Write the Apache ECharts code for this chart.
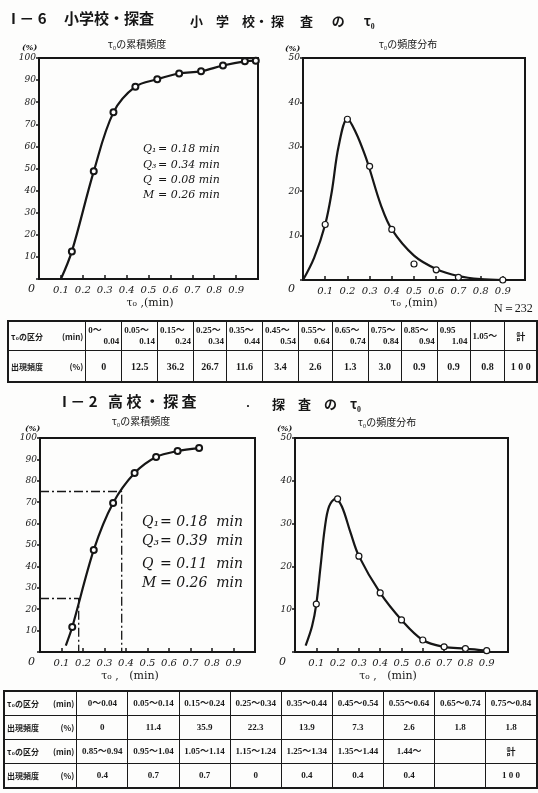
<!DOCTYPE html>
<html>
<head>
<meta charset="utf-8">
<script src="https://cdn.jsdelivr.net/npm/echarts@6/dist/echarts.min.js"></script>
<style>
  html, body { margin: 0; padding: 0; background: #fff; }
  #page { position: relative; width: 538px; height: 793px; overflow: hidden; background: #fdfdfc; }
  #chart { position: absolute; left: 0; top: 0; width: 538px; height: 793px; }
  table { position: absolute; border-collapse: collapse; table-layout: fixed; border: 2px solid #1a1a1a;
          font-family: "Liberation Serif", "Noto Sans CJK JP", serif; font-weight: bold; color: #1a1a1a; }
  td { border: 1px solid #1a1a1a; padding: 0 2px; font-size: 9px; line-height: 11px; overflow: hidden; white-space: nowrap; }
  #t1 { left: 7px; top: 320px; }
  #t1 tr.h td { height: 28px; }
  #t1 tr.v td { height: 30px; text-align: center; font-size: 10px; }
  #t2 { left: 3px; top: 690px; }
  #t2 td { height: 23px; text-align: center; }
  .lo { text-align: left; }
  .hi { text-align: right; }
  .sp { display: flex; justify-content: space-between; font-family: "Noto Sans CJK JP", sans-serif; font-size: 8px; }
</style>
</head>
<body>
<div id="page">
  <div id="chart"></div>
  <table id="t1"></table>
  <table id="t2"></table>
</div>
<script>
// ---- I-6 小学校 ----
var cumX1 = [0.10, 0.15, 0.25, 0.34, 0.44, 0.54, 0.64, 0.74, 0.84, 0.94, 0.99];
var cumY1 = [0, 12.5, 48.7, 75.4, 87.0, 90.4, 93.0, 94.0, 96.6, 98.5, 98.8];
var ptX1 = [0.1, 0.2, 0.3, 0.4, 0.5, 0.6, 0.7, 0.9];
var ptY1 = [12.5, 36.2, 25.6, 11.4, 3.6, 2.3, 0.6, 0];
var curveX1 = [0, 0.05, 0.1, 0.13, 0.16, 0.2, 0.24, 0.28, 0.3, 0.35, 0.4, 0.5, 0.6, 0.7, 0.8, 0.9];
var curveY1 = [0, 5, 12.5, 20, 30, 36.3, 33, 28, 25, 17, 11.4, 5.5, 2.5, 0.9, 0.2, 0];
var qNames = ['Q₁', 'Q₃', 'Q', 'M'];
var qVals1 = ['0.18', '0.34', '0.08', '0.26'];
var classes1 = [['0～', '0.04'], ['0.05～', '0.14'], ['0.15～', '0.24'], ['0.25～', '0.34'], ['0.35～', '0.44'],
  ['0.45～', '0.54'], ['0.55～', '0.64'], ['0.65～', '0.74'], ['0.75～', '0.84'], ['0.85～', '0.94'],
  ['0.95', '1.04'], ['1.05～', '']];
var freq1 = ['0', '12.5', '36.2', '26.7', '11.6', '3.4', '2.6', '1.3', '3.0', '0.9', '0.9', '0.8'];
var total1 = '1 0 0';

// ---- I-2 高校 ----
var cumX2 = [0.12, 0.15, 0.25, 0.34, 0.44, 0.54, 0.64, 0.74];
var cumY2 = [3, 11.7, 47.7, 69.6, 83.6, 91.1, 93.9, 95.3];
var quart2 = [[0.18, 25], [0.38, 75]];
var ptX2 = [0.1, 0.2, 0.3, 0.4, 0.5, 0.6, 0.7, 0.8, 0.9];
var ptY2 = [11.2, 35.8, 22.4, 13.8, 7.5, 2.8, 1.2, 0.8, 0.3];
var curveX2 = [0.05, 0.08, 0.1, 0.12, 0.14, 0.16, 0.19, 0.22, 0.26, 0.3, 0.4, 0.5, 0.6, 0.7, 0.8, 0.9];
var curveY2 = [1.5, 6, 11.2, 20, 29, 34, 35.8, 34, 28, 22.4, 13.8, 7.5, 2.8, 1.2, 0.8, 0.3];
var qVals2 = ['0.18', '0.39', '0.11', '0.26'];
var classes2a = ['0～0.04', '0.05～0.14', '0.15～0.24', '0.25～0.34', '0.35～0.44', '0.45～0.54', '0.55～0.64', '0.65～0.74', '0.75～0.84'];
var freq2a = ['0', '11.4', '35.9', '22.3', '13.9', '7.3', '2.6', '1.8', '1.8'];
var classes2b = ['0.85～0.94', '0.95～1.04', '1.05～1.14', '1.15～1.24', '1.25～1.34', '1.35～1.44', '1.44～', '', '計'];
var freq2b = ['0.4', '0.7', '0.7', '0', '0.4', '0.4', '0.4', '', '1 0 0'];

function zip(xs, ys) {
  var out = [];
  for (var i = 0; i < xs.length; i++) out.push([xs[i], ys[i]]);
  return out;
}

var INK = '#161616';

function xAx(gi) {
  return {
    type: 'value', gridIndex: gi, min: 0, max: 1, interval: 0.1,
    axisLine: { lineStyle: { color: INK, width: 2 } },
    axisTick: { inside: true, length: 4, lineStyle: { color: INK, width: 1.5 } },
    splitLine: { show: false },
    axisLabel: {
      color: INK, fontSize: 10, fontStyle: 'italic', fontFamily: 'DejaVu Serif', margin: 6,
      formatter: function (v) { return (v > 0.05 && v < 0.95) ? v.toFixed(1) : ''; }
    }
  };
}
function yAx(gi, max) {
  return {
    type: 'value', gridIndex: gi, min: 0, max: max, interval: 10,
    axisLine: { lineStyle: { color: INK, width: 2 } },
    axisTick: { length: 3, lineStyle: { color: INK, width: 1.5 } },
    splitLine: { show: false },
    axisLabel: {
      color: INK, fontSize: 9, fontStyle: 'italic', fontFamily: 'DejaVu Serif', margin: 3,
      formatter: function (v) { return v === 0 ? '' : v; }
    }
  };
}
function gridBox(l, t, w, h) {
  return { left: l, top: t, width: w, height: h, show: true, borderColor: INK, borderWidth: 2, backgroundColor: 'transparent' };
}

var cum1Data = zip(cumX1, cumY1);
cum1Data[0] = { value: cum1Data[0], symbol: 'none' };
var cum2Data = zip(cumX2, cumY2);
cum2Data[0] = { value: cum2Data[0], symbol: 'none' };

var lineBase = { type: 'line', smooth: 0.35, lineStyle: { color: INK, width: 2.2 }, itemStyle: { color: INK, borderColor: INK, borderWidth: 1 }, z: 3 };
function ser(extra) { return Object.assign({}, lineBase, extra); }
var dotStyle = { color: '#ffffff', borderColor: INK, borderWidth: 1.2, opacity: 1 };

var series = [
  ser({ xAxisIndex: 0, yAxisIndex: 0, data: cum1Data, symbol: 'emptyCircle', symbolSize: 6 }),
  ser({ xAxisIndex: 1, yAxisIndex: 1, data: zip(curveX1, curveY1), symbol: 'none' }),
  { type: 'scatter', xAxisIndex: 1, yAxisIndex: 1, data: zip(ptX1, ptY1), symbol: 'circle', symbolSize: 6,
    itemStyle: dotStyle, z: 4 },
  ser({ xAxisIndex: 2, yAxisIndex: 2, data: cum2Data, symbol: 'emptyCircle', symbolSize: 6, smooth: 0.3 }),
  ser({ xAxisIndex: 3, yAxisIndex: 3, data: zip(curveX2, curveY2), symbol: 'none' }),
  { type: 'scatter', xAxisIndex: 3, yAxisIndex: 3, data: zip(ptX2, ptY2), symbol: 'circle', symbolSize: 6,
    itemStyle: dotStyle, z: 4 }
];
quart2.forEach(function (q) {
  series.push({
    type: 'line', xAxisIndex: 2, yAxisIndex: 2, symbol: 'none', z: 2,
    lineStyle: { color: INK, width: 1.3, type: [9, 3, 2, 3] },
    data: [[0, q[1]], [q[0], q[1]], [q[0], 0]]
  });
});

function txt(s, x, y, font, align) {
  return { type: 'text', x: x, y: y, style: { text: s, font: font, fill: INK, align: align || 'left', verticalAlign: 'middle' }, z: 10 };
}
var TITLE = 'bold 15px "Noto Sans CJK JP"';
var SUB = '10px "Noto Sans CJK JP"';
var graphics = [
  txt('I － 6', 11, 18, TITLE),
  txt('小学校・探査', 64, 18, TITLE),
  txt('小　学　校・ 探　 査　  の　  τ₀', 190, 21, 'bold 13px "Noto Sans CJK JP"'),
  txt('τ₀の累積頻度', 137, 44, SUB, 'center'),
  txt('τ₀の頻度分布', 408, 44, SUB, 'center'),
  txt('(%)', 22, 48, 'italic bold 8px "DejaVu Serif"'),
  txt('(%)', 285, 49, 'italic bold 8px "DejaVu Serif"'),
  txt('0', 28, 289, 'italic 11px "DejaVu Serif"'),
  txt('0', 288, 289, 'italic 11px "DejaVu Serif"'),
  txt('τ₀ ,(min)', 150, 303, '11px "DejaVu Serif"', 'center'),
  txt('τ₀ ,(min)', 414, 303, '11px "DejaVu Serif"', 'center'),
  txt('N＝232', 494, 309, '12px "Liberation Serif"'),

  txt('I － 2', 62, 401, TITLE),
  txt('高 校 ・ 探 査', 108, 401, TITLE),
  txt('・', 243, 406, '10px "Noto Sans CJK JP"'),
  txt('探　査　の　τ₀', 272, 404, 'bold 13px "Noto Sans CJK JP"'),
  txt('τ₀の累積頻度', 141, 421, SUB, 'center'),
  txt('τ₀の頻度分布', 387, 422, SUB, 'center'),
  txt('(%)', 25, 429, 'italic bold 8px "DejaVu Serif"'),
  txt('(%)', 277, 429, 'italic bold 8px "DejaVu Serif"'),
  txt('0', 28, 662, 'italic 11px "DejaVu Serif"'),
  txt('0', 279, 662, 'italic 11px "DejaVu Serif"'),
  txt('τ₀ ,   (min)', 130, 676, '11px "DejaVu Serif"', 'center'),
  txt('τ₀ ,   (min)', 388, 676, '11px "DejaVu Serif"', 'center')
];
var qy1 = [149, 165, 180, 195];
var qy2 = [522, 541, 564, 583];
for (var i = 0; i < qNames.length; i++) {
  graphics.push(txt(qNames[i], 143, qy1[i], 'italic 11px "DejaVu Serif"'));
  graphics.push(txt('= ' + qVals1[i] + ' min', 158, qy1[i], 'italic 11px "DejaVu Serif"'));
  graphics.push(txt(qNames[i], 142, qy2[i], 'italic 14px "DejaVu Serif"'));
  graphics.push(txt('= ' + qVals2[i] + '  min', 160, qy2[i], 'italic 14px "DejaVu Serif"'));
}

var option = {
  animation: false,
  backgroundColor: 'transparent',
  grid: [gridBox(39, 58, 219, 221), gridBox(303, 58, 222, 222), gridBox(40, 438, 215, 214), gridBox(295, 438, 213, 214)],
  xAxis: [xAx(0), xAx(1), xAx(2), xAx(3)],
  yAxis: [yAx(0, 100), yAx(1, 50), yAx(2, 100), yAx(3, 50)],
  series: series,
  graphic: graphics
};
var myChart = echarts.init(document.getElementById('chart'));
myChart.setOption(option);

// ---- tables ----
function col(widths) {
  var s = '<colgroup>';
  for (var i = 0; i < widths.length; i++) s += '<col style="width:' + widths[i] + 'px">';
  return s + '</colgroup>';
}
var w1 = [78, 36, 36, 36, 33, 36, 36, 34, 36, 33, 36, 33, 35, 32];
var h1 = '<tr class="h"><td><div class="sp"><span>τ₀の区分</span><span>(min)</span></div></td>';
for (var i = 0; i < classes1.length; i++) {
  var c = classes1[i];
  if (c[1]) h1 += '<td><div class="lo">' + c[0] + '</div><div class="hi">' + c[1] + '</div></td>';
  else h1 += '<td style="text-align:left">' + c[0] + '</td>';
}
h1 += '<td style="text-align:center;font-family:\'Noto Sans CJK JP\'">計</td></tr>';
var r1 = '<tr class="v"><td><div class="sp"><span>出現頻度</span><span>(%)</span></div></td>';
for (var i = 0; i < freq1.length; i++) r1 += '<td>' + freq1[i] + '</td>';
r1 += '<td>' + total1 + '</td></tr>';
document.getElementById('t1').innerHTML = col(w1) + h1 + r1;

var w2 = [75, 52, 52, 52, 52, 52, 52, 52, 52, 52];
function row(label, unit, cells) {
  var s = '<tr><td><div class="sp"><span>' + label + '</span><span>' + unit + '</span></div></td>';
  for (var i = 0; i < cells.length; i++) {
    s += '<td' + (cells[i] === '計' ? ' style="font-family:\'Noto Sans CJK JP\'"' : '') + '>' + cells[i] + '</td>';
  }
  return s + '</tr>';
}
document.getElementById('t2').innerHTML = col(w2) +
  row('τ₀の区分', '(min)', classes2a) +
  row('出現頻度', '(%)', freq2a) +
  row('τ₀の区分', '(min)', classes2b) +
  row('出現頻度', '(%)', freq2b);
</script>
</body>
</html>
